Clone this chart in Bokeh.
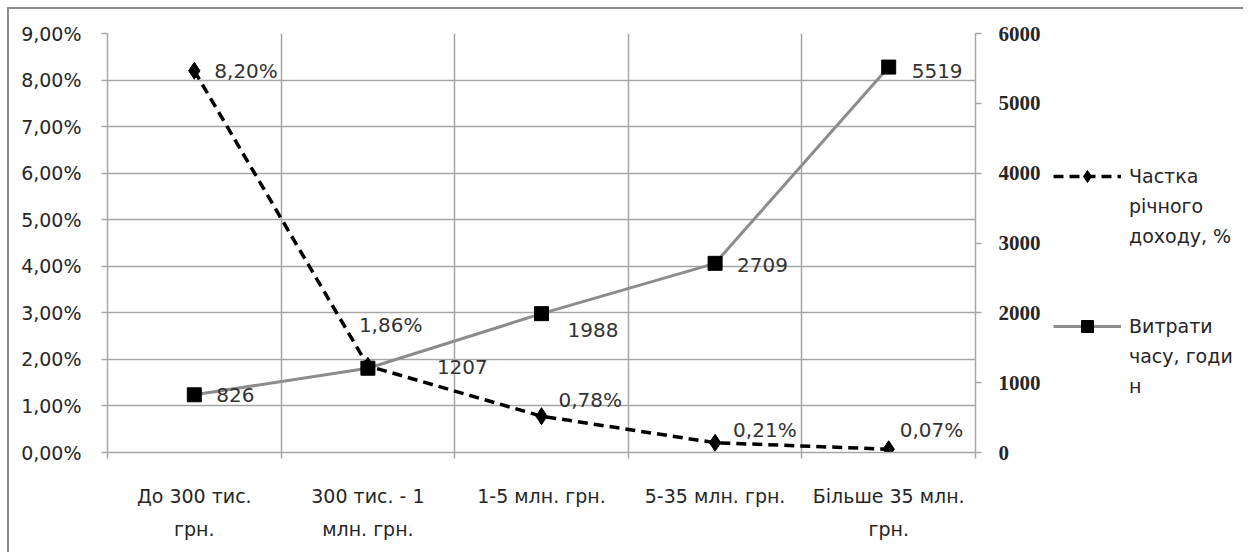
from bokeh.plotting import figure
from bokeh.layouts import row
from bokeh.models import (ColumnDataSource, LinearAxis, Range1d, FixedTicker,
                          LabelSet, Legend, LegendItem)
from bokeh.core.properties import value
from bokeh.embed import file_html
from bokeh.resources import INLINE

# ---------------- data ----------------
categories = ["До 300 тис.\nгрн.", "300 тис. - 1\nмлн. грн.", "1-5 млн. грн.",
              "5-35 млн. грн.", "Більше 35 млн.\nгрн."]
share_pct = [8.20, 1.86, 0.78, 0.21, 0.07]
share_labels = ["8,20%", "1,86%", "0,78%", "0,21%", "0,07%"]
hours = [826, 1207, 1988, 2709, 5519]
hours_labels = ["826", "1207", "1988", "2709", "5519"]
left_ticks = [0, 1, 2, 3, 4, 5, 6, 7, 8, 9]
left_tick_labels = ["0,00%", "1,00%", "2,00%", "3,00%", "4,00%", "5,00%",
                    "6,00%", "7,00%", "8,00%", "9,00%"]
right_ticks = [0, 1000, 2000, 3000, 4000, 5000, 6000]
share_name_lines = ["Частка", "річного", "доходу, %"]
hours_name_lines = ["Витрати", "часу, годи", "н"]

# label placement (screen px)
share_dx = [20, -9, 17, 18, 11]
share_dy = [0, 41, 16, 13, 19]
hours_dx = [22, 69, 26, 22, 23]
hours_dy = [0, 1, -16, -2, -4]

n = len(categories)
xc = [i + 0.5 for i in range(n)]
bounds = list(range(n + 1))

FONT = "DejaVu Sans"
GRID = "#a6a6a6"
TXT = "#262626"
H = 543

SHARE_STYLE = dict(line_color="black", line_width=3.5, line_dash="10 6")
SHARE_MARK = dict(marker="diamond", size=17, color="black")
HOURS_STYLE = dict(line_color="#8c8c8c", line_width=3)
HOURS_MARK = dict(marker="square", size=14, color="black")

p = figure(width=1039, height=H,
           x_range=Range1d(0, n), y_range=Range1d(0, 9),
           output_backend="svg", toolbar_location=None,
           min_border_left=98, min_border_top=24, min_border_bottom=100,
           min_border_right=73,
           background_fill_color="white", border_fill_color="white")
p.outline_line_color = None

p.extra_y_ranges = {"hours": Range1d(0, 6000)}

# grids
p.xgrid.ticker = FixedTicker(ticks=bounds)
p.ygrid.ticker = FixedTicker(ticks=left_ticks)
for g in (p.xgrid, p.ygrid):
    g.grid_line_color = GRID
    g.grid_line_width = 1.5

# x axis: labels at centres, tick marks at boundaries
xa = p.xaxis[0]
xa.ticker = FixedTicker(ticks=xc, minor_ticks=bounds)
xa.major_label_overrides = {x: c for x, c in zip(xc, categories)}
xa.major_label_text_font = FONT
xa.major_label_text_font_size = "19px"
xa.major_label_text_color = TXT
xa.major_label_text_line_height = 1.5
xa.major_label_standoff = 26
xa.major_tick_out = 0
xa.major_tick_in = 0
xa.major_tick_line_color = None
xa.minor_tick_out = 6
xa.minor_tick_in = 0
xa.minor_tick_line_color = GRID
xa.minor_tick_line_width = 1.5
xa.axis_line_color = GRID
xa.axis_line_width = 1.5

# left axis
ya = p.yaxis[0]
ya.ticker = FixedTicker(ticks=left_ticks)
ya.major_label_overrides = {t: s for t, s in zip(left_ticks, left_tick_labels)}
ya.major_label_text_font = FONT
ya.major_label_text_font_size = "19px"
ya.major_label_text_color = TXT
ya.major_label_standoff = 20
ya.major_tick_out = 6
ya.major_tick_in = 0
ya.minor_tick_line_color = None
ya.axis_line_color = GRID
ya.axis_line_width = 1.5
ya.major_tick_line_color = GRID
ya.major_tick_line_width = 1.5

# right axis
ra = LinearAxis(y_range_name="hours", ticker=FixedTicker(ticks=right_ticks))
ra.major_label_text_font = "Liberation Serif"
ra.major_label_text_font_style = "bold"
ra.major_label_text_font_size = "21px"
ra.major_label_text_color = TXT
ra.major_label_standoff = 17
ra.major_tick_out = 6
ra.major_tick_in = 0
ra.minor_tick_line_color = None
ra.axis_line_color = GRID
ra.axis_line_width = 1.5
ra.major_tick_line_color = GRID
ra.major_tick_line_width = 1.5
p.add_layout(ra, "right")

# data
src = ColumnDataSource(dict(x=xc, share=share_pct, share_lbl=share_labels,
                            hours=hours, hours_lbl=hours_labels,
                            sdx=share_dx, sdy=share_dy, hdx=hours_dx, hdy=hours_dy))

p.line("x", "share", source=src, **SHARE_STYLE)
p.scatter("x", "share", source=src, **SHARE_MARK)
p.line("x", "hours", source=src, y_range_name="hours", **HOURS_STYLE)
p.scatter("x", "hours", source=src, y_range_name="hours", **HOURS_MARK)

p.add_layout(LabelSet(x="x", y="share", text="share_lbl", source=src,
                      x_offset="sdx", y_offset="sdy",
                      text_font=value(FONT), text_font_size="20px", text_color="#333333",
                      text_baseline="middle", text_align="left"))
p.add_layout(LabelSet(x="x", y="hours", text="hours_lbl", source=src, y_range_name="hours",
                      x_offset="hdx", y_offset="hdy",
                      text_font=value(FONT), text_font_size="20px", text_color="#333333",
                      text_baseline="middle", text_align="left"))

# ---------------- legend panel ----------------
lg = figure(width=195, height=H, x_range=Range1d(0, 1), y_range=Range1d(0, 1),
            output_backend="svg", toolbar_location=None,
            min_border_left=0, min_border_right=0, min_border_top=24, min_border_bottom=100,
            background_fill_color="white", border_fill_color="white")
lg.outline_line_color = None
lg.axis.visible = False
lg.grid.visible = False
# sample renderers (hidden) used only to draw the legend glyphs
r1 = lg.line("x", "share", source=src, visible=False, **SHARE_STYLE)
s1 = lg.scatter("x", "share", source=src, visible=False, **SHARE_MARK)
r2 = lg.line("x", "hours", source=src, visible=False, **HOURS_STYLE)
s2 = lg.scatter("x", "hours", source=src, visible=False, **HOURS_MARK)

items = [LegendItem(label=share_name_lines[0], renderers=[r1, s1])]
items += [LegendItem(label=t, renderers=[]) for t in share_name_lines[1:]]
items += [LegendItem(label=" ", renderers=[]) for _ in range(2)]
items += [LegendItem(label=hours_name_lines[0], renderers=[r2, s2])]
items += [LegendItem(label=t, renderers=[]) for t in hours_name_lines[1:]]

legend = Legend(items=items, location=(5, 51))
legend.border_line_color = None
legend.background_fill_alpha = 0
legend.inactive_fill_alpha = 0
legend.label_text_font = FONT
legend.label_text_font_size = "19px"
legend.label_text_color = TXT
legend.label_height = 20
legend.glyph_height = 30
legend.glyph_width = 68
legend.label_standoff = 8
legend.spacing = 0
legend.margin = 0
legend.padding = 0
lg.add_layout(legend, "center")

layout = row(p, lg, spacing=0)
layout.styles = {"margin-left": "7px", "margin-top": "7px",
                 "border-top": "2px solid #8c8c8c", "border-left": "2px solid #8c8c8c"}

open("out.html", "w").write(file_html(layout, INLINE))
